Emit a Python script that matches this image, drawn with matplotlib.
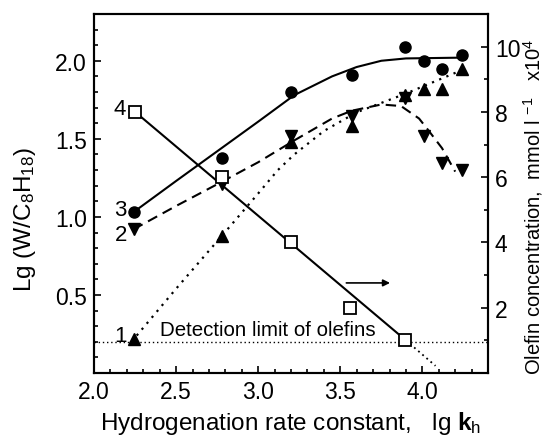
import matplotlib
matplotlib.use("Agg")
import matplotlib.pyplot as plt
from matplotlib.ticker import MultipleLocator

plt.rcParams['font.family'] = ['Liberation Sans', 'DejaVu Sans']
plt.rcParams['mathtext.fontset'] = 'custom'
plt.rcParams['mathtext.rm'] = 'Liberation Sans'
plt.rcParams['mathtext.it'] = 'Liberation Sans:italic'
plt.rcParams['mathtext.bf'] = 'Liberation Sans:bold'

# measured points (left axis, Lg(W/C8H18))
x_pts = [2.245, 2.78, 3.20, 3.57, 3.895, 4.01, 4.12, 4.24]
s3_y = [1.03, 1.38, 1.80, 1.91, 2.085, 2.00, 1.95, 2.035]   # circles
s2_y = [0.92, 1.21, 1.52, 1.645, 1.76, 1.515, 1.345, 1.30]  # down triangles
s1_y = [0.22, 0.88, 1.48, 1.585, 1.78, 1.82, 1.82, 1.945]   # up triangles

# hand-drawn trend curves
c3_x = [2.24, 2.5, 2.75, 3.0, 3.22, 3.45, 3.6, 3.75, 3.9, 4.24]
c3_y = [1.03, 1.23, 1.42, 1.61, 1.78, 1.90, 1.96, 2.00, 2.015, 2.02]
c2_x = [2.24, 2.5, 2.77, 3.0, 3.22, 3.45, 3.57, 3.75, 3.87, 3.98, 4.04, 4.12, 4.20]
c2_y = [0.92, 1.07, 1.22, 1.35, 1.49, 1.63, 1.68, 1.72, 1.71, 1.63, 1.55, 1.44, 1.29]
c1_x = [2.26, 2.5, 2.78, 3.0, 3.12, 3.22, 3.4, 3.6, 3.9, 4.24]
c1_y = [0.24, 0.54, 0.88, 1.15, 1.30, 1.40, 1.55, 1.67, 1.79, 1.94]

# olefin concentration (right axis, x10^4 mmol/l)
s4_x = [2.25, 2.78, 3.20, 3.56, 3.895]
s4_y = [8.0, 6.0, 4.0, 2.0, 1.0]
fit4_x = [2.25, 3.9]
fit4_y = [8.0, 1.0]
ext4_x = [3.9, 4.08]
ext4_y = [1.0, 0.22]

detect_lim = 0.20

fig = plt.figure(figsize=(5.53, 4.39), dpi=100)
ax = fig.add_axes([0.170, 0.148, 0.7125, 0.818])
ax2 = ax.twinx()

ax.plot(c3_x, c3_y, color='black', lw=1.5)
ax.plot(c2_x, c2_y, color='black', lw=1.5, ls=(0, (5, 3)))
ax.plot(c1_x, c1_y, color='black', lw=1.6, ls=(0, (1, 2.5)))
ax.plot(x_pts, s3_y, 'o', color='black', ms=8)
ax.plot(x_pts, s2_y, 'v', color='black', ms=9)
ax.plot(x_pts, s1_y, '^', color='black', ms=9)
ax.axhline(detect_lim, color='black', lw=1, ls=(0, (1, 2)))
ax.text(2.40, detect_lim + 0.02, 'Detection limit of olefins', fontsize=14.8,
        va='bottom', ha='left')

ax2.plot(fit4_x, fit4_y, color='black', lw=1.5)
ax2.plot(ext4_x, ext4_y, color='black', lw=1.3, ls=(0, (1, 2)))
ax2.plot(s4_x, s4_y, 's', mfc='white', mec='black', mew=1.3, ms=8)
ax2.annotate('', xy=(3.82, 2.76), xytext=(3.52, 2.76),
             arrowprops=dict(arrowstyle='-|>', color='black', lw=1.2,
                             mutation_scale=10))

ax.text(2.20, 1.05, '3', fontsize=16, ha='right', va='center')
ax.text(2.20, 0.89, '2', fontsize=16, ha='right', va='center')
ax.text(2.20, 0.24, '1', fontsize=16, ha='right', va='center')
ax2.text(2.195, 8.1, '4', fontsize=16, ha='right', va='center')

ax.set_xlim(2.0, 4.4)
ax.set_ylim(0.0, 2.3)
ax2.set_ylim(0, 11)

ax.xaxis.set_major_locator(MultipleLocator(0.5))
ax.xaxis.set_minor_locator(MultipleLocator(0.1))
ax.yaxis.set_major_locator(MultipleLocator(0.5))
ax.yaxis.set_minor_locator(MultipleLocator(0.1))
ax.set_yticks([0.5, 1.0, 1.5, 2.0])
ax2.set_yticks([2, 4, 6, 8, 10])
ax2.yaxis.set_minor_locator(MultipleLocator(1))

for a in (ax, ax2):
    a.tick_params(which='both', direction='in', labelsize=16.5, width=1.2, pad=5)
    a.tick_params(which='major', length=5)
    a.tick_params(which='minor', length=3)
    for sp in a.spines.values():
        sp.set_linewidth(1.5)

ax.set_xlabel(r'Hydrogenation rate constant,   lg $\mathbf{k}_\mathrm{h}$',
              fontsize=17.5, labelpad=4)
fig.text(25 / 553, 1 - 219 / 439, r'Lg (W/C$_\mathrm{8}$H$_\mathrm{18}$)',
         fontsize=17.5, rotation=90, ha='center', va='center')
fig.text(533 / 553, 1 - 207 / 439,
         r'Olefin concentration,  mmol l $^\mathrm{-1}$   x10$^\mathrm{4}$',
         fontsize=14.5, rotation=90, ha='center', va='center')

fig.savefig('out.png', dpi=100)
